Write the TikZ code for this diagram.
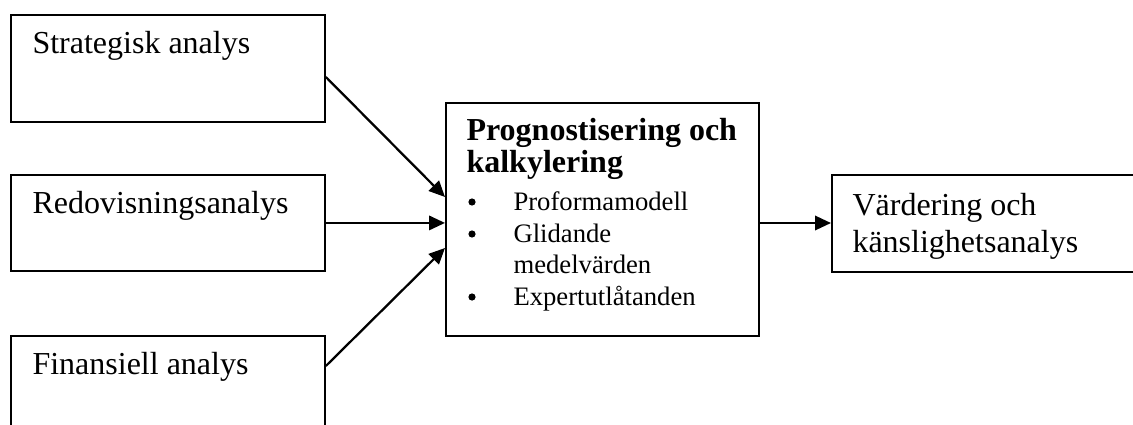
\documentclass[tikz,border=0pt]{standalone}
\usepackage{fontspec}
\setmainfont{Liberation Serif}
\usetikzlibrary{arrows.meta,calc}

\begin{document}
\begin{tikzpicture}[
    x=0.375pt, y=-0.375pt,
    box/.style={draw, line width=0.7pt, inner sep=0pt, anchor=north west},
    lbl/.style={anchor=base west, inner sep=0pt, font=\fontsize{12}{12}\selectfont},
    ttl/.style={anchor=base west, inner sep=0pt, font=\fontsize{12}{12}\selectfont\bfseries},
    itm/.style={anchor=base west, inner sep=0pt, font=\fontsize{10}{12}\selectfont},
    dot/.style={circle, fill, inner sep=0pt, minimum size=2.7pt},
    flow/.style={line width=0.85pt, -{Triangle[length=6pt, width=5.4pt]}}
  ]
  \useasboundingbox (0,0) rectangle (1133,425);
  \clip (0,0) rectangle (1133,425);

  % input analyses
  \node[box, minimum width=117.75pt, minimum height=40.1pt] (strat) at (10,14) {};
  \node[box, minimum width=117.75pt, minimum height=36pt]   (redo)  at (10,174) {};
  \node[box, minimum width=117.75pt, minimum height=60pt]   (fin)   at (10,335) {};
  \node[lbl] at (32,53)  {Strategisk analys};
  \node[lbl] at (32,213) {Redovisningsanalys};
  \node[lbl] at (32,374) {Finansiell analys};

  % forecasting box
  \node[box, minimum width=117.4pt, minimum height=87.4pt] (prog) at (445,102) {};
  \node[ttl] at (466,140) {Prognostisering och};
  \node[ttl] at (466,172) {kalkylering};
  \node[dot] at (472,202) {};
  \node[itm] at (513,210) {Proformamodell};
  \node[dot] at (472,234) {};
  \node[itm] at (513,242) {Glidande};
  \node[itm] at (513,273) {medelvärden};
  \node[dot] at (472,297) {};
  \node[itm] at (513,305) {Expertutlåtanden};

  % valuation box
  \node[box, minimum width=124pt, minimum height=36.4pt] (vard) at (831,174) {};
  \node[lbl] at (852,215) {Värdering och};
  \node[lbl] at (852,252) {känslighetsanalys};

  % connectors
  \draw[flow] ($(strat.north east)+(0,63)$) -- ($(prog.north west)+(0,95)$);
  \draw[flow] (redo.east) -- (redo.east -| prog.west);
  \draw[flow] ($(fin.north east)+(0,31)$) -- ($(prog.north west)+(0,146)$);
  \draw[flow] ($(prog.north east)+(0,121)$) -- ($(vard.north west)+(0,49)$);
\end{tikzpicture}
\end{document}
